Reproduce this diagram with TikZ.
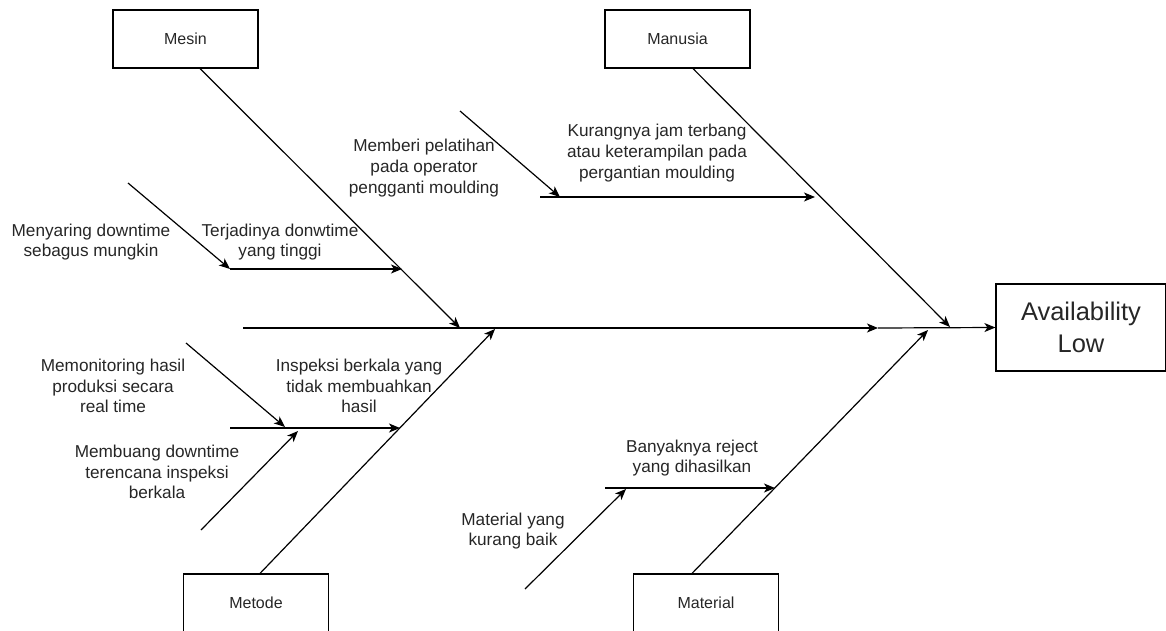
\documentclass[tikz,border=0pt]{standalone}
\usepackage{fontspec}
\setmainfont{Liberation Sans}
\usetikzlibrary{arrows.meta}
\definecolor{txtgray}{RGB}{38,38,38}
\tikzset{
  catbox/.style={draw, line width=1.2pt, minimum width=145pt, minimum height=58pt, inner sep=0pt, text=txtgray, font=\fontsize{16}{19}\selectfont},
  effbox/.style={draw, line width=1.2pt, minimum width=170pt, minimum height=87pt, inner sep=0pt, align=center, text=txtgray, font=\fontsize{25.5}{32}\selectfont},
  bone/.style={line width=1.2pt, -{Stealth[length=11pt,width=9pt,inset=3pt]}},
  lbl/.style={align=center, inner sep=0pt, text=txtgray, font=\fontsize{17.2}{20.7}\selectfont}
}
\begin{document}
\begin{tikzpicture}[x=1pt,y=1pt,yscale=-1,xscale=1]
\useasboundingbox (0,0) rectangle (1166,631);

%Shape: Rectangle (categories)
\node [catbox] (mesin) at (185.5,39) {Mesin};
\node [catbox] (manusia) at (677.5,39) {Manusia};
\node [catbox] (metode) at (256,603) {Metode};
\node [catbox] (material) at (706,603) {Material};
%Shape: Rectangle (effect)
\node [effbox] (effect) at (1081,327.5) {Availability\\Low};

%Straight Lines (main spine)
\coordinate (mainL) at (243,328);
\coordinate (mainM) at (878,328);
\draw [bone] (mainL) -- (mainM);
\draw [bone] (mainM) -- (effect.west);

%Straight Lines (category bones)
\coordinate (jMesin) at (460,328);
\coordinate (jManusia) at (950,327);
\coordinate (jMetode) at (495,329);
\coordinate (jMaterial) at (928,330);
\draw [bone] ([xshift=14.5pt]mesin.south) -- (jMesin);
\draw [bone] ([xshift=15.5pt]manusia.south) -- (jManusia);
\draw [bone] ([xshift=4pt]metode.north) -- (jMetode);
\draw [bone] ([xshift=-14pt]material.north) -- (jMaterial);

%Straight Lines (Mesin)
\coordinate (sMesinL) at (230,269);
\coordinate (sMesinR) at (402,269);
\coordinate (cMesin) at (128,183);
\draw [bone] (sMesinL) -- (sMesinR);
\draw [bone] (cMesin) -- (sMesinL);

%Straight Lines (Manusia)
\coordinate (sManusiaL) at (540,197);
\coordinate (sManusiaR) at (815,197);
\coordinate (sManusiaT) at (560,197);
\coordinate (cManusia) at (460,111);
\draw [bone] (sManusiaL) -- (sManusiaR);
\draw [bone] (cManusia) -- (sManusiaT);

%Straight Lines (Metode)
\coordinate (sMetodeL) at (230,428);
\coordinate (sMetodeR) at (400,428);
\coordinate (sMetodeA) at (285,427);
\coordinate (sMetodeB) at (298,431);
\coordinate (cMetodeA) at (186,343);
\coordinate (cMetodeB) at (201,530);
\draw [bone] (sMetodeL) -- (sMetodeR);
\draw [bone] (cMetodeA) -- (sMetodeA);
\draw [bone] (cMetodeB) -- (sMetodeB);

%Straight Lines (Material)
\coordinate (sMaterialL) at (605,488);
\coordinate (sMaterialR) at (775,488);
\coordinate (sMaterialT) at (626,489);
\coordinate (cMaterial) at (525,589);
\draw [bone] (sMaterialL) -- (sMaterialR);
\draw [bone] (cMaterial) -- (sMaterialT);

% Text Node
\node [lbl] (tMenyaring) at (91,242) {Menyaring downtime\\sebagus mungkin};
% Text Node
\node [lbl] (tTerjadi) at (280,242) {Terjadinya donwtime\\yang tinggi};
% Text Node
\node [lbl] (tMemberi) at (424,168) {Memberi pelatihan\\pada operator\\pengganti moulding};
% Text Node
\node [lbl] (tKurang) at (657,153) {Kurangnya jam terbang\\atau keterampilan pada\\pergantian moulding};
% Text Node
\node [lbl] (tMonitor) at (113,386) {Memonitoring hasil\\produksi secara\\real time};
% Text Node
\node [lbl] (tInspeksi) at (359,386) {Inspeksi berkala yang\\tidak membuahkan\\hasil};
% Text Node
\node [lbl] (tBuang) at (157,472) {Membuang downtime\\terencana inspeksi\\berkala};
% Text Node
\node [lbl] (tReject) at (692,458) {Banyaknya reject\\yang dihasilkan};
% Text Node
\node [lbl] (tMatKurang) at (513,531) {Material yang\\kurang baik};

\end{tikzpicture}
\end{document}
